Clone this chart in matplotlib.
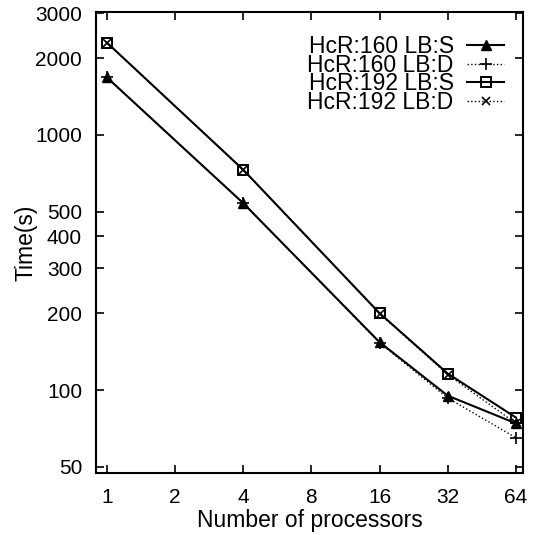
import matplotlib.pyplot as plt
from matplotlib.ticker import FixedLocator, NullLocator, FixedFormatter

plt.rcParams['font.family'] = ['Liberation Sans', 'DejaVu Sans']

procs = [1, 4, 16, 32, 64]
hcr160_s = [1680, 540, 154, 95, 74]
hcr160_d = [1680, 540, 153, 93, 65]
hcr192_s = [2300, 730, 200, 116, 78]
hcr192_d = [2300, 730, 199, 115, 74]

x_ticks = [1, 2, 4, 8, 16, 32, 64]
y_ticks = [50, 100, 200, 300, 400, 500, 1000, 2000, 3000]

fig = plt.figure(figsize=(5.33, 5.35), dpi=100)
ax = fig.add_axes([0.180, 0.116, 0.801, 0.862])

ax.plot(procs, hcr160_s, '-', color='black', lw=1.5, marker='^', ms=7,
        mfc='black', label='HcR:160 LB:S')
ax.plot(procs, hcr160_d, ':', color='black', lw=1.0, marker='+', ms=8,
        mew=1.2, label='HcR:160 LB:D')
ax.plot(procs, hcr192_s, '-', color='black', lw=1.5, marker='s', ms=7,
        mfc='none', mew=1.4, label='HcR:192 LB:S')
ax.plot(procs, hcr192_d, ':', color='black', lw=1.0, marker='x', ms=6,
        mew=1.2, label='HcR:192 LB:D')

ax.set_xscale('log', base=2)
ax.set_yscale('log')
ax.set_xlim(0.894, 68.7)
ax.set_ylim(47.3, 3040)

ax.xaxis.set_major_locator(FixedLocator(x_ticks))
ax.xaxis.set_major_formatter(FixedFormatter([str(v) for v in x_ticks]))
ax.xaxis.set_minor_locator(NullLocator())
ax.yaxis.set_major_locator(FixedLocator(y_ticks))
ax.yaxis.set_major_formatter(FixedFormatter([str(v) for v in y_ticks]))
ax.yaxis.set_minor_locator(NullLocator())

ax.tick_params(axis='both', which='major', direction='in', length=6,
               width=1.2, labelsize=15, top=True, right=True)
ax.tick_params(axis='y', pad=10)
ax.tick_params(axis='x', pad=11)
for sp in ax.spines.values():
    sp.set_linewidth(1.5)

ax.set_xlabel('Number of processors', fontsize=16.5, labelpad=1)
ax.set_ylabel('Time(s)', fontsize=16.5, labelpad=-2)

# rows sit tight, like the original gnuplot key
ax.legend(loc='upper right', bbox_to_anchor=(1.015, 1.005), frameon=False,
          markerfirst=False, fontsize=16.5, handlelength=1.6,
          handletextpad=0.6, labelspacing=-0.18, borderaxespad=0.7)

fig.savefig('out.png', dpi=100)
